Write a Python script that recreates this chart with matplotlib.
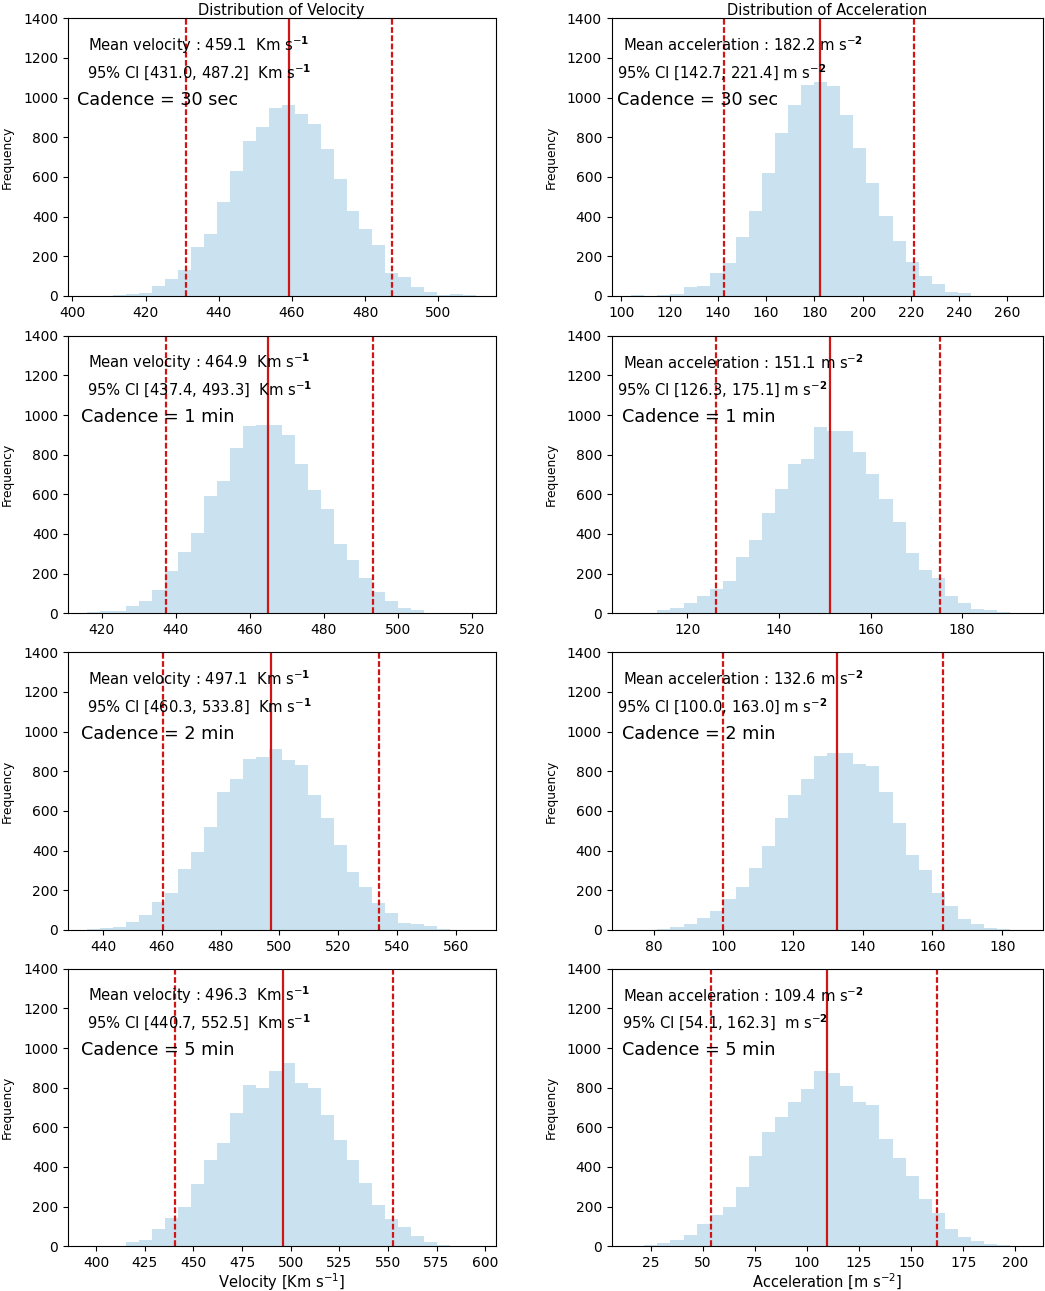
import numpy as np
import matplotlib
matplotlib.use("Agg")
import matplotlib.pyplot as plt

# ---------------- data ----------------
cadences = ["30 sec", "1 min", "2 min", "5 min"]

# velocity histograms (30 equal bins between min and max)
vel_range_30s = (404.1, 510.3)
vel_counts_30s = [1, 1, 3, 10, 15, 52, 87, 131, 247, 313, 474, 632, 781, 852, 948,
                  963, 918, 869, 741, 590, 429, 338, 255, 118, 97, 47, 18, 5, 12, 3]
vel_range_1m = (416.2, 521.1)
vel_counts_1m = [8, 12, 12, 37, 62, 118, 214, 311, 406, 591, 667, 833, 946, 949, 951,
                 897, 753, 623, 525, 350, 271, 178, 109, 62, 29, 17, 2, 2, 1, 1]
vel_range_2m = (434.7, 566.9)
vel_counts_2m = [7, 8, 15, 40, 76, 141, 185, 309, 395, 518, 696, 761, 864, 871, 913,
                 855, 830, 681, 566, 430, 294, 217, 136, 87, 35, 30, 18, 3, 2, 2]
vel_range_5m = (395.6, 595.3)
vel_counts_5m = [1, 1, 1, 20, 34, 87, 145, 200, 313, 434, 519, 674, 813, 800, 886,
                 923, 822, 798, 664, 538, 437, 319, 207, 139, 97, 50, 24, 7, 2, 2]

# acceleration histograms
acc_range_30s = (104.1, 266.5)
acc_counts_30s = [3, 1, 3, 10, 44, 52, 118, 166, 299, 427, 622, 820, 961, 1062, 1079,
                  1061, 914, 746, 570, 403, 277, 171, 101, 59, 18, 13, 2, 2, 1, 2]
acc_range_1m = (107.8, 193.3)
acc_counts_1m = [3, 3, 15, 25, 54, 86, 121, 163, 283, 370, 507, 625, 751, 779, 938,
                 919, 919, 811, 702, 576, 460, 303, 219, 180, 88, 54, 20, 15, 7, 3]
acc_range_2m = (73.6, 186.0)
acc_counts_2m = [2, 2, 7, 13, 30, 62, 96, 157, 214, 313, 423, 562, 682, 761, 875,
                 894, 894, 835, 825, 694, 537, 380, 303, 185, 120, 57, 30, 8, 3, 2]
acc_range_5m = (15.7, 203.7)
acc_counts_5m = [3, 5, 17, 30, 57, 111, 160, 200, 297, 454, 578, 652, 726, 795, 882,
                 876, 808, 726, 711, 543, 445, 353, 239, 168, 87, 47, 29, 13, 5, 3]

vel_means = [459.1, 464.9, 497.1, 496.3]
vel_ci_low = [431.0, 437.4, 460.3, 440.7]
vel_ci_high = [487.2, 493.3, 533.8, 552.5]

acc_means = [182.2, 151.1, 132.6, 109.4]
acc_ci_low = [142.7, 126.3, 100.0, 54.1]
acc_ci_high = [221.4, 175.1, 163.0, 162.3]

vel_xticks = [list(range(400, 501, 20)), list(range(420, 521, 20)),
              list(range(440, 561, 20)), list(range(400, 601, 25))]
acc_xticks = [list(range(100, 261, 20)), list(range(120, 181, 20)),
              list(range(80, 181, 20)), list(range(25, 201, 25))]
yticks = list(range(0, 1401, 200))

vel_ranges = [vel_range_30s, vel_range_1m, vel_range_2m, vel_range_5m]
vel_counts = [vel_counts_30s, vel_counts_1m, vel_counts_2m, vel_counts_5m]
acc_ranges = [acc_range_30s, acc_range_1m, acc_range_2m, acc_range_5m]
acc_counts = [acc_counts_30s, acc_counts_1m, acc_counts_2m, acc_counts_5m]

# ---------------- style ----------------
BAR = "#cae2f0"
RED = "#d01515"
TXT = 10.6
CAD = 12.7

W, H = 1045, 1291
fig = plt.figure(figsize=(W / 100, H / 100), dpi=100)

col_left = [68, 611.7]
col_width = [427.5, 431]
row_top = [18.3, 335.7, 652.3, 968.7]
row_height = 277.6


def make_ax(r, c):
    l = col_left[c] / W
    b = 1 - (row_top[r] + row_height) / H
    return fig.add_axes([l, b, col_width[c] / W, row_height / H])


def draw(ax, rng, counts, mean, lo, hi, xticks):
    edges = np.linspace(rng[0], rng[1], len(counts) + 1)
    ax.hist(edges[:-1], bins=edges, weights=counts, color=BAR)
    ax.axvline(mean, color=RED, lw=1.6)
    for v in (lo, hi):
        ax.axvline(v, color=RED, lw=1.6, ls=(0, (2.6, 1.1)))
    ax.set_ylim(0, 1400)
    ax.set_yticks(yticks)
    ax.set_xticks(xticks)
    ax.tick_params(labelsize=10)
    ax.set_ylabel("Frequency", fontsize=8.8)
    ax.yaxis.set_label_coords(-0.126, 0.5)


for r in range(4):
    ax = make_ax(r, 0)
    draw(ax, vel_ranges[r], vel_counts[r], vel_means[r], vel_ci_low[r],
         vel_ci_high[r], vel_xticks[r])
    ax.text(0.046, 0.904, f"Mean velocity : {vel_means[r]:.1f}  Km s$^{{-\\mathbf{{1}}}}$",
            transform=ax.transAxes, fontsize=TXT, va="center", ha="left")
    ax.text(0.044, 0.804,
            f"95% CI [{vel_ci_low[r]:.1f}, {vel_ci_high[r]:.1f}]  Km s$^{{-\\mathbf{{1}}}}$",
            transform=ax.transAxes, fontsize=TXT, va="center", ha="left")
    cx = 0.022 if r == 0 else 0.03
    ax.text(cx, 0.706, f"Cadence = {cadences[r]}", transform=ax.transAxes,
            fontsize=CAD, va="center", ha="left")
    if r == 0:
        ax.set_title("Distribution of Velocity", fontsize=10.5, pad=2)
    if r == 3:
        ax.set_xlabel("Velocity [Km s$^{-1}$]", fontsize=10.5, labelpad=1)

    ax = make_ax(r, 1)
    draw(ax, acc_ranges[r], acc_counts[r], acc_means[r], acc_ci_low[r],
         acc_ci_high[r], acc_xticks[r])
    ax.yaxis.set_label_coords(-0.125, 0.5)
    ax.text(0.0255, 0.904, f"Mean acceleration : {acc_means[r]:.1f} m s$^{{-\\mathbf{{2}}}}$",
            transform=ax.transAxes, fontsize=TXT, va="center", ha="left")
    sep = "  " if r == 3 else " "
    cix = [0.013, 0.012, 0.012, 0.024][r]
    ax.text(cix, 0.804,
            f"95% CI [{acc_ci_low[r]:.1f}, {acc_ci_high[r]:.1f}]{sep}m s$^{{-\\mathbf{{2}}}}$",
            transform=ax.transAxes, fontsize=TXT, va="center", ha="left")
    cx = 0.013 if r == 0 else 0.023
    ax.text(cx, 0.706, f"Cadence = {cadences[r]}", transform=ax.transAxes,
            fontsize=CAD, va="center", ha="left")
    if r == 0:
        ax.set_title("Distribution of Acceleration", fontsize=10.5, pad=2)
    if r == 3:
        ax.set_xlabel("Acceleration [m s$^{-2}$]", fontsize=10.5, labelpad=1)

fig.savefig("out.png", dpi=100)
